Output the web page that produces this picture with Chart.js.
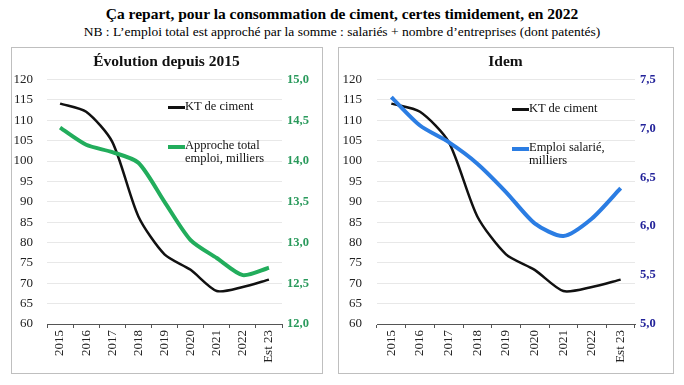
<!DOCTYPE html>
<html>
<head>
<meta charset="utf-8">
<script src="https://cdn.jsdelivr.net/npm/chart.js@4"></script>
<style>
  body { margin: 0; background: #fff; font-family: "Liberation Serif", "Times New Roman", serif; }
  #wrap { position: relative; width: 684px; height: 385px; overflow: hidden; }
  .title { position: absolute; left: 0; width: 684px; text-align: center; white-space: nowrap; }
  .panel { position: absolute; border: 1.5px solid #bfbfbf; box-sizing: border-box; }
  .panel canvas { position: absolute; left: 0; top: 0; }
  .legend { position: absolute; font-size: 12.5px; line-height: 13px; color: #111; }
  .legend .sw { position: absolute; left: 0; height: 3px; width: 17px; }
  .legend .tx { position: absolute; left: 17px; white-space: nowrap; }
</style>
</head>
<body>
<div id="wrap">
  <div class="title" style="top:5px; font-size:15.5px; font-weight:bold;">Ça repart, pour la consommation de ciment, certes timidement, en 2022</div>
  <div class="title" style="top:24px; font-size:13.5px;">NB : L’emploi total est approché par la somme : salariés + nombre d’entreprises (dont patentés)</div>

  <div class="panel" style="left:11px; top:47px; width:312px; height:327px;">
    <canvas id="chartLeft" width="309" height="324"></canvas>
  </div>
  <div class="panel" style="left:338px; top:47px; width:336px; height:327px;">
    <canvas id="chartRight" width="333" height="324"></canvas>
  </div>

  <!-- legends -->
  <div class="legend" style="left:168px; top:100px;">
    <div class="sw" style="top:6px; background:#111;"></div>
    <div class="tx" style="top:0;">KT de ciment</div>
  </div>
  <div class="legend" style="left:168px; top:139px;">
    <div class="sw" style="top:6px; height:4px; background:#22ad5c;"></div>
    <div class="tx" style="top:0;">Approche total<br>emploi, milliers</div>
  </div>
  <div class="legend" style="left:512px; top:102px;">
    <div class="sw" style="top:6px; background:#111;"></div>
    <div class="tx" style="top:0;">KT de ciment</div>
  </div>
  <div class="legend" style="left:512px; top:141px;">
    <div class="sw" style="top:6px; height:4px; background:#2b7de3;"></div>
    <div class="tx" style="top:0;">Emploi salarié,<br>milliers</div>
  </div>
</div>

<script>
// categories and series
const years = ['2015', '2016', '2017', '2018', '2019', '2020', '2021', '2022', 'Est 23'];
const cimentKT = [114.1, 112.1, 104.7, 86.4, 77.1, 73.3, 68.1, 69.1, 70.9];
const emploiTotal = [14.41, 14.2, 14.11, 13.98, 13.5, 13.03, 12.81, 12.6, 12.69];
const emploiSalarie = [7.32, 7.03, 6.86, 6.64, 6.35, 6.03, 5.9, 6.08, 6.39];

const serif = "'Liberation Serif', 'Times New Roman', serif";
const comma = v => v.toFixed(1).replace('.', ',');

function makeChart(id, cfg) {
  return new Chart(document.getElementById(id), {
    type: 'line',
    data: {
      labels: years,
      datasets: [
        {
          data: cimentKT, yAxisID: 'y', borderColor: '#111', borderWidth: 2.5,
          pointRadius: 0, tension: 0.25, order: 1
        },
        {
          data: cfg.series, yAxisID: 'y1', borderColor: cfg.color, borderWidth: 4,
          pointRadius: 0, tension: 0.25, order: 0
        }
      ]
    },
    options: {
      responsive: false,
      animation: false,
      layout: { padding: { top: 0, bottom: 0, left: 0, right: 0 } },
      plugins: {
        legend: { display: false },
        tooltip: { enabled: false },
        title: {
          display: true, text: cfg.title, color: '#111',
          font: { family: serif, size: 15.5, weight: 'bold' },
          padding: { top: 5, bottom: 8 }
        }
      },
      scales: {
        x: {
          offset: true,
          grid: { drawOnChartArea: false, drawTicks: true, tickLength: 4, color: '#555', offset: true },
          border: { display: true, color: '#555', width: 1 },
          ticks: { color: '#222', font: { family: serif, size: 13 }, minRotation: 90, maxRotation: 90, padding: 2, autoSkip: false },
          afterFit: s => { s.height = 48; }
        },
        y: {
          position: 'left', min: 60, max: 120,
          grid: { color: '#e8e8e8', drawTicks: false },
          border: { display: false },
          ticks: { stepSize: 5, color: '#222', font: { family: serif, size: 13 }, padding: cfg.padL },
          afterFit: s => { s.width = cfg.wL; }
        },
        y1: {
          position: 'right', min: cfg.min, max: cfg.max,
          grid: { display: false, drawTicks: false },
          border: { display: false },
          ticks: { stepSize: 0.5, color: cfg.tickColor, font: { family: serif, size: 12.5, weight: 'bold' }, padding: 5, callback: comma },
          afterFit: s => { s.width = cfg.wR; }
        }
      }
    }
  });
}

makeChart('chartLeft', {
  title: 'Évolution depuis 2015', series: emploiTotal, color: '#22ad5c',
  min: 12, max: 15, tickColor: '#2a9a5c', wL: 35, wR: 39, padL: 14
});
makeChart('chartRight', {
  title: 'Idem', series: emploiSalarie, color: '#2b7de3',
  min: 5, max: 7.5, tickColor: '#23239a', wL: 38, wR: 37, padL: 15
});
</script>
</body>
</html>
